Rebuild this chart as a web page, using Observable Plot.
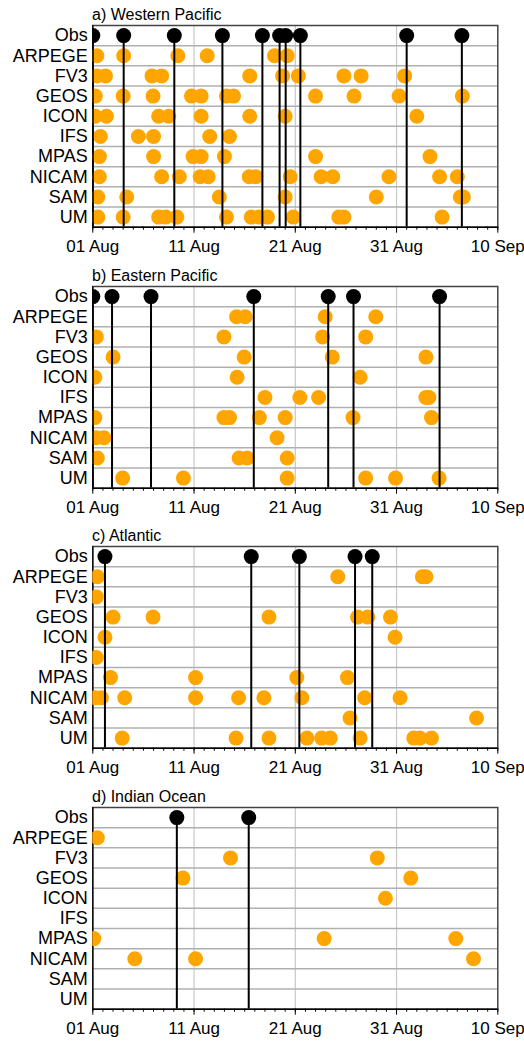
<!DOCTYPE html>
<html>
<head>
<meta charset="utf-8">
<script src="https://cdn.jsdelivr.net/npm/d3@7"></script>
<script src="https://cdn.jsdelivr.net/npm/@observablehq/plot@0.6"></script>
<style>
  html, body { margin: 0; padding: 0; background: #fff; }
  body { width: 524px; font-family: "Liberation Sans", Arial, sans-serif; }
  .panel { position: relative; width: 524px; height: 260.5px; }
  .panel svg { position: absolute; left: 0; top: 0; }
  .title { position: absolute; left: 92px; top: 7px; font-size: 16px; line-height: 16px; color: #000; z-index: 2; white-space: nowrap; }
</style>
</head>
<body>
<div id="chart"></div>
<script>
// Rows (top to bottom)
const models = ["Obs", "ARPEGE", "FV3", "GEOS", "ICON", "IFS", "MPAS", "NICAM", "SAM", "UM"];
const regionTitles = ["a) Western Pacific", "b) Eastern Pacific", "c) Atlantic", "d) Indian Ocean"];
// x ticks: days since 01 Aug
const tickDays = [0, 10, 20, 30, 40];
const tickLabels = ["01 Aug", "11 Aug", "21 Aug", "31 Aug", "10 Sep"];

// Event times in days since 01 Aug 00 UTC, one list per row of `models`
const westernPacific = [
  [0, 3.05, 8.05, 12.8, 16.75, 18.45, 19.05, 20.5, 31.0, 36.45],
  [0.4, 3.05, 8.4, 11.3, 17.95, 19.2],
  [0.4, 1.25, 5.85, 6.8, 15.5, 18.75, 20.3, 24.8, 26.5, 30.8],
  [0.25, 3.0, 5.95, 9.75, 10.7, 13.2, 13.9, 22.0, 25.8, 30.25, 36.5],
  [0.25, 1.35, 6.5, 7.5, 10.7, 15.5, 19.0, 32.0],
  [0.75, 4.5, 6.0, 11.55, 13.5],
  [0.65, 6.0, 9.9, 10.7, 13.0, 22.0, 33.3],
  [0.65, 6.8, 8.55, 10.6, 11.4, 15.45, 16.1, 19.5, 22.55, 23.7, 29.25, 34.25, 36.0],
  [0.5, 3.35, 12.5, 19.0, 28.0, 36.3, 36.6],
  [0.5, 3.0, 6.5, 7.2, 8.3, 13.2, 15.65, 16.4, 17.25, 19.8, 24.3, 24.8, 34.5]
];
const easternPacific = [
  [0, 1.9, 5.75, 15.9, 23.25, 25.75, 34.25],
  [14.2, 15.05, 22.95, 27.95],
  [0.35, 12.95, 22.7, 26.95],
  [2.0, 14.95, 23.65, 32.9],
  [0.2, 14.25, 26.4],
  [17.0, 20.45, 22.3, 32.9, 33.2],
  [0.2, 12.95, 13.5, 16.45, 19.0, 25.7, 33.45],
  [0.35, 1.1, 18.2],
  [0.45, 14.45, 15.25, 19.2],
  [2.95, 8.95, 19.2, 26.95, 29.9, 34.2]
];
const atlantic = [
  [1.2, 15.65, 20.4, 25.9, 27.6],
  [0.45, 24.2, 32.55, 32.9],
  [0.35],
  [2.0, 5.95, 17.4, 26.15, 27.15, 29.4],
  [1.2, 29.85],
  [0.35],
  [1.75, 10.15, 20.15, 25.15],
  [0.25, 0.85, 3.15, 10.15, 14.4, 16.9, 20.65, 26.85, 30.35],
  [25.4, 37.9],
  [2.9, 14.15, 17.4, 21.15, 22.6, 23.45, 26.4, 31.7, 32.3, 33.45]
];
const indianOcean = [
  [8.3, 15.4],
  [0.45],
  [13.6, 28.1],
  [8.9, 31.4],
  [28.9],
  [],
  [0.1, 22.85, 35.85],
  [4.15, 10.15, 37.6],
  [],
  []
];

const regionData = [westernPacific, easternPacific, atlantic, indianOcean];
const chart = document.getElementById("chart");

regionData.forEach((rows, k) => {
  const obsPoints = rows[0].map(day => ({day, row: 0}));
  const modelPoints = rows.slice(1).flatMap((days, i) => days.map(day => ({day, row: i + 1})));

  const plot = Plot.plot({
    width: 524,
    height: 260.5,
    marginTop: 25,
    marginBottom: 33.8,
    marginLeft: 92.3,
    marginRight: 26.7,
    style: {fontFamily: "'Liberation Sans', Arial, sans-serif", background: "white", color: "black", overflow: "visible"},
    x: {domain: [0, 40], label: null},
    y: {domain: [-0.5, 9.5], reverse: true, label: null},
    marks: [
      Plot.ruleX([10, 20, 30], {stroke: "#c8c8c8", strokeWidth: 1.2}),
      Plot.ruleY(d3.range(9).map(i => i + 0.5), {stroke: "#b0b0b0", strokeWidth: 1.5}),
      Plot.frame({stroke: "#444", strokeWidth: 1.5}),
      Plot.ruleY([9.5], {stroke: "black", strokeWidth: 1.5}),
      Plot.ruleX([0], {stroke: "black", strokeWidth: 1.2}),
      Plot.axisX({ticks: d3.range(0, 41), tickSize: 3, tickFormat: () => "", strokeWidth: 1, label: null}),
      Plot.axisX({ticks: tickDays, tickSize: 6, tickPadding: 7, fontSize: 17, label: null,
                  tickFormat: (d) => tickLabels[tickDays.indexOf(d)], strokeWidth: 1}),
      Plot.axisY({ticks: d3.range(10), tickSize: 0, tickPadding: 5, fontSize: 18, label: null,
                  tickFormat: (d) => models[d]}),
      Plot.dot(modelPoints, {x: "day", y: "row", r: 7.5, fill: "#FFA500", clip: true}),
      Plot.ruleX(obsPoints, {x: "day", y1: 0, y2: 9.5, stroke: "black", strokeWidth: 2, clip: true}),
      Plot.dot(obsPoints, {x: "day", y: "row", r: 7.5, fill: "black", clip: true})
    ]
  });

  const panel = document.createElement("div");
  panel.className = "panel";
  const title = document.createElement("div");
  title.className = "title";
  title.textContent = regionTitles[k];
  panel.appendChild(plot);
  panel.appendChild(title);
  chart.appendChild(panel);
});
</script>
</body>
</html>
